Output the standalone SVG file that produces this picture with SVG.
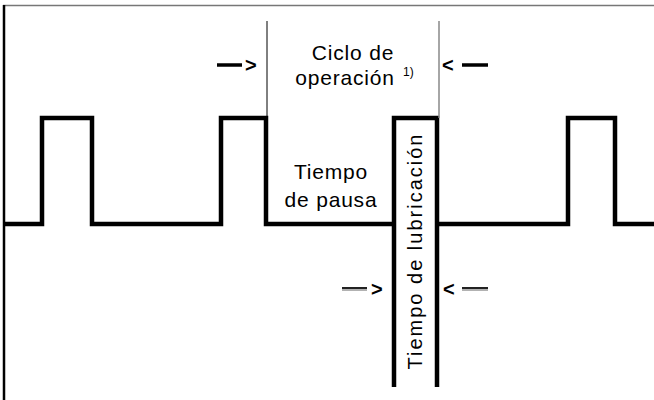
<svg xmlns="http://www.w3.org/2000/svg" width="654" height="400" viewBox="0 0 654 400">
<style>
.t{font-family:"Liberation Sans",Arial,sans-serif;fill:#000;font-size:21px}
.w{fill:none;stroke:#000;stroke-width:4.5;stroke-linejoin:miter;stroke-linecap:butt}
.sm{font-family:"Liberation Sans",Arial,sans-serif;fill:#000;font-size:20px;font-weight:bold}
</style>
<rect width="654" height="400" fill="#fff"/>
<g id="frame">
<line x1="3" y1="5.5" x2="654" y2="5.5" stroke="#777" stroke-width="1.5"/>
<line x1="4" y1="5" x2="4" y2="400" stroke="#000" stroke-width="2.5"/>
</g>
<g id="connectors">
<path class="w" d="M5,224 H42 V118 H92 V224 H221 V118 H266 V224 H394"/>
<path class="w" d="M394,387 V118 H437 V387"/>
<path class="w" d="M437,224 H568 V118 H615 V224 H654"/>
<line x1="267" y1="21" x2="267" y2="118" stroke="#000" stroke-width="1"/>
<line x1="439" y1="21" x2="439" y2="118" stroke="#888" stroke-width="1.5"/>
<line x1="217" y1="65" x2="242" y2="65" stroke="#000" stroke-width="3.5"/>
<line x1="462" y1="65" x2="488" y2="65" stroke="#000" stroke-width="3.5"/>
<line x1="342" y1="288" x2="367" y2="288" stroke="#222" stroke-width="2"/>
<line x1="342" y1="290" x2="367" y2="290" stroke="#999" stroke-width="1.5"/>
<line x1="462" y1="288" x2="488" y2="288" stroke="#222" stroke-width="2"/>
<line x1="462" y1="290" x2="488" y2="290" stroke="#999" stroke-width="1.5"/>
</g>
<g id="arrows">
<text class="sm" x="245" y="72">&gt;</text>
<text class="sm" x="442" y="72">&lt;</text>
<text class="sm" x="371" y="296">&gt;</text>
<text class="sm" x="443" y="296">&lt;</text>
</g>
<g id="ciclo">
<text class="t" x="353" y="60" text-anchor="middle" letter-spacing="0.8">Ciclo de</text>
<text class="t" x="345" y="85" text-anchor="middle" letter-spacing="0.8">operación</text>
<text class="t" x="403" y="76" style="font-size:12px">1)</text>
</g>
<g id="pausa">
<text class="t" x="331" y="179" text-anchor="middle" letter-spacing="0.8">Tiempo</text>
<text class="t" x="331" y="207" text-anchor="middle" letter-spacing="0.8">de pausa</text>
</g>
<g id="lubricacion">
<text class="t" transform="translate(422,251) rotate(-90)" text-anchor="middle" style="font-size:20px" letter-spacing="2">Tiempo de lubricación</text>
</g>
</svg>
